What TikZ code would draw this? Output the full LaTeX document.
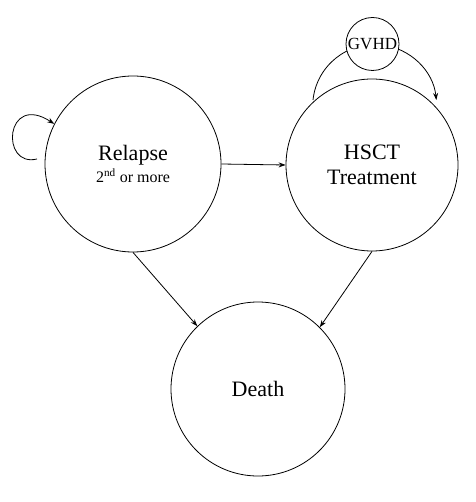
\documentclass[tikz,border=0pt]{standalone}
\usepackage{fontspec}
\setmainfont{Liberation Serif}
\usetikzlibrary{arrows.meta}
\begin{document}
\begin{tikzpicture}[x=1pt,y=-1pt,
  state/.style={draw,circle,line width=0.8pt,inner sep=0pt,align=center,font=\fontsize{22}{25.6}\selectfont},
  conn/.style={line width=0.8pt,-{Stealth[length=7pt,width=5pt]}}]
\useasboundingbox (0,0) rectangle (475,502);
\node[state,minimum size=176pt] (relapse) at (133,164) {Relapse\\[-3pt]{\fontsize{16}{18}\selectfont 2\textsuperscript{nd} or more}};
\node[state,minimum size=172pt] (hsct) at (372,165) {HSCT\\Treatment};
\node[state,minimum size=174pt] (death) at (258,389) {Death};
% GVHD arc
\coordinate (gl) at (313,100);
\draw[conn] (gl) arc[start angle=186, end angle=354, radius=62];
\node[state,fill=white,minimum size=53pt,font=\fontsize{17}{20}\selectfont] (gvhd) at (372.5,44) {GVHD};
% self loop
\coordinate (ls) at (37,159);
\draw[conn] (ls) .. controls (0,168) and (5,92) .. (relapse.153);
% connectors
\draw[conn] (relapse.east) -- (hsct.west);
\draw[conn] (relapse.south) -- (death.134);
\draw[conn] (hsct.south) -- (death.45);
\end{tikzpicture}
\end{document}
